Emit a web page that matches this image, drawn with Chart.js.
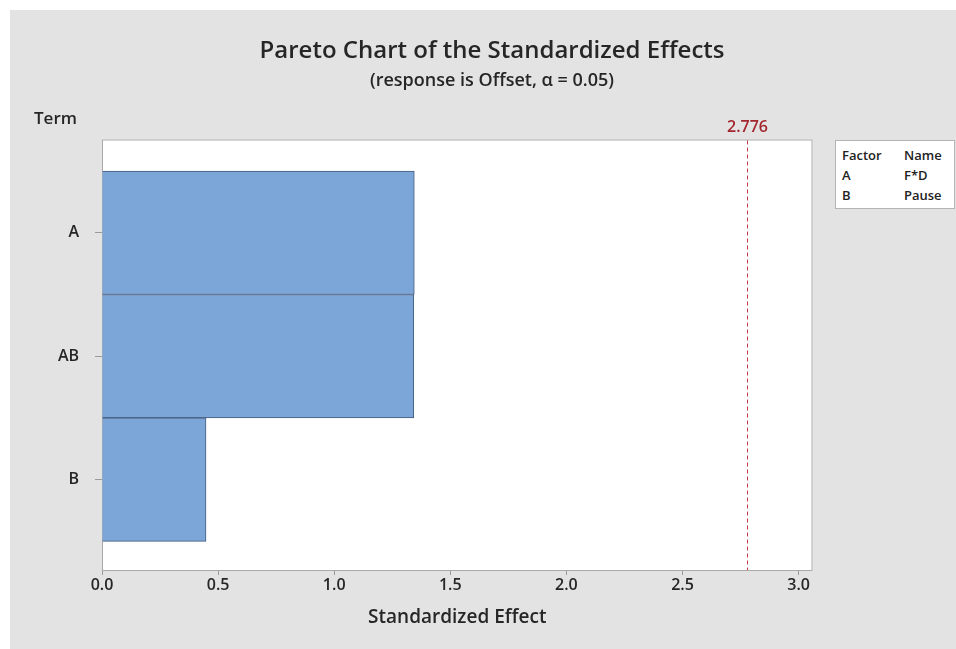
<!DOCTYPE html>
<html>
<head>
<meta charset="utf-8">
<script src="https://cdn.jsdelivr.net/npm/chart.js@4.4.1/dist/chart.umd.min.js"></script>
<style>
  html, body { margin: 0; padding: 0; background: #fff; }
  #wrap { position: absolute; left: 10px; top: 10px; width: 946px; height: 639px; background: #e3e3e3; }
  #chart { position: absolute; left: 0; top: 0; }
  #factors {
    position: absolute; left: 825px; top: 130px; width: 118px; height: 67px;
    background: #fff; border: 1px solid #b4b4b4;
    font: 600 13px "Open Sans", sans-serif; color: #222;
  }
  #factors table { border-collapse: collapse; margin: 4px 0 0 6px; }
  #factors td { padding: 0; line-height: 20px; height: 20px; }
  #factors td:first-child { width: 62px; }
</style>
</head>
<body>
<div id="wrap">
  <canvas id="chart" width="946" height="639"></canvas>
  <div id="factors">
    <table>
      <tr><td>Factor</td><td>Name</td></tr>
      <tr><td>A</td><td>F*D</td></tr>
      <tr><td>B</td><td>Pause</td></tr>
    </table>
  </div>
</div>
<script>
"use strict";

// terms in Pareto order (largest effect on top)
const terms = ["A", "AB", "B"];
const termPos = [1, 2, 3];
const effects = [1.345, 1.343, 0.448];
const critical = 2.776;
const xTicks = [0, 0.5, 1.0, 1.5, 2.0, 2.5, 3.0];

const FONT = "'Open Sans', sans-serif";
const ink = "#262626";

// canvas text, squeezed to the width it has in the picture
function label(ctx, text, x, y, size, align, maxW, color) {
  ctx.save();
  ctx.font = `600 ${size}px ${FONT}`;
  ctx.fillStyle = color || ink;
  ctx.textAlign = align;
  ctx.textBaseline = "middle";
  ctx.fillText(text, x, y, maxW);
  ctx.restore();
}

const decor = {
  id: "decor",
  beforeDraw(chart) {
    const { ctx, chartArea: a } = chart;
    ctx.save();
    ctx.fillStyle = "#fff";
    ctx.fillRect(a.left, a.top, a.right - a.left, a.bottom - a.top);
    ctx.strokeStyle = "#a9a9a9";
    ctx.lineWidth = 1;
    ctx.strokeRect(a.left + 0.5, a.top + 0.5, a.right - a.left - 1, a.bottom - a.top - 1);
    ctx.restore();
  },
  afterDatasetsDraw(chart) {
    const { ctx, chartArea: a, scales } = chart;
    const x = Math.round(scales.x.getPixelForValue(critical)) + 0.5;
    ctx.save();
    ctx.strokeStyle = "#c23a44";
    ctx.lineWidth = 1;
    ctx.setLineDash([4, 3]);
    ctx.beginPath();
    ctx.moveTo(x, a.top + 1);
    ctx.lineTo(x, a.bottom - 1);
    ctx.stroke();
    ctx.restore();
    label(ctx, critical.toFixed(3), x, 117, 16, "center", 47, "#a3262e");
  },
  afterDraw(chart) {
    const { ctx } = chart;
    label(ctx, "Pareto Chart of the Standardized Effects", 482, 41, 24, "center", 466);
    label(ctx, "(response is Offset, \u03b1 = 0.05)", 482, 71, 18, "center", 276);
    label(ctx, "Term", 24, 109, 17, "left", 44);
  },
};

new Chart(document.getElementById("chart"), {
  type: "bar",
  data: {
    datasets: [{
      data: terms.map((t, i) => ({ x: effects[i], y: termPos[i] })),
      backgroundColor: "#7ca5d8",
      borderColor: "#44597a",
      borderWidth: 1,
      barPercentage: 1,
      categoryPercentage: 1,
    }],
  },
  options: {
    indexAxis: "y",
    responsive: false,
    animation: false,
    devicePixelRatio: 1,
    layout: { padding: { top: 129.5, right: 143.5, bottom: 0, left: 0 } },
    plugins: { legend: { display: false }, tooltip: { enabled: false } },
    scales: {
      x: {
        type: "linear",
        min: 0,
        max: 3.06,
        afterBuildTicks: (s) => { s.ticks = xTicks.map((v) => ({ value: v })); },
        afterFit: (s) => { s.height = 78; },
        ticks: {
          callback: (v) => Number(v).toFixed(1),
          font: { family: FONT, size: 16, weight: "600" },
          color: ink,
          padding: 1,
          maxRotation: 0,
          autoSkip: false,
        },
        grid: { drawOnChartArea: false, tickLength: 4, tickColor: "#9a9a9a" },
        border: { display: false },
        title: {
          display: true,
          text: "Standardized Effect",
          font: { family: FONT, size: 19, weight: "600" },
          color: ink,
          padding: { top: 0, bottom: 20 },
        },
      },
      y: {
        type: "linear",
        reverse: true,
        offset: false,
        min: 0.244,
        max: 3.74,
        afterBuildTicks: (s) => { s.ticks = termPos.map((v) => ({ value: v })); },
        afterFit: (s) => { s.width = 92; },
        ticks: {
          callback: (v, i) => terms[i],
          font: { family: FONT, size: 16, weight: "600" },
          color: ink,
          padding: 16,
          autoSkip: false,
        },
        grid: { offset: false, drawOnChartArea: false, tickLength: 7, tickColor: "#9a9a9a" },
        border: { display: false },
      },
    },
  },
  plugins: [decor],
});
</script>
</body>
</html>
